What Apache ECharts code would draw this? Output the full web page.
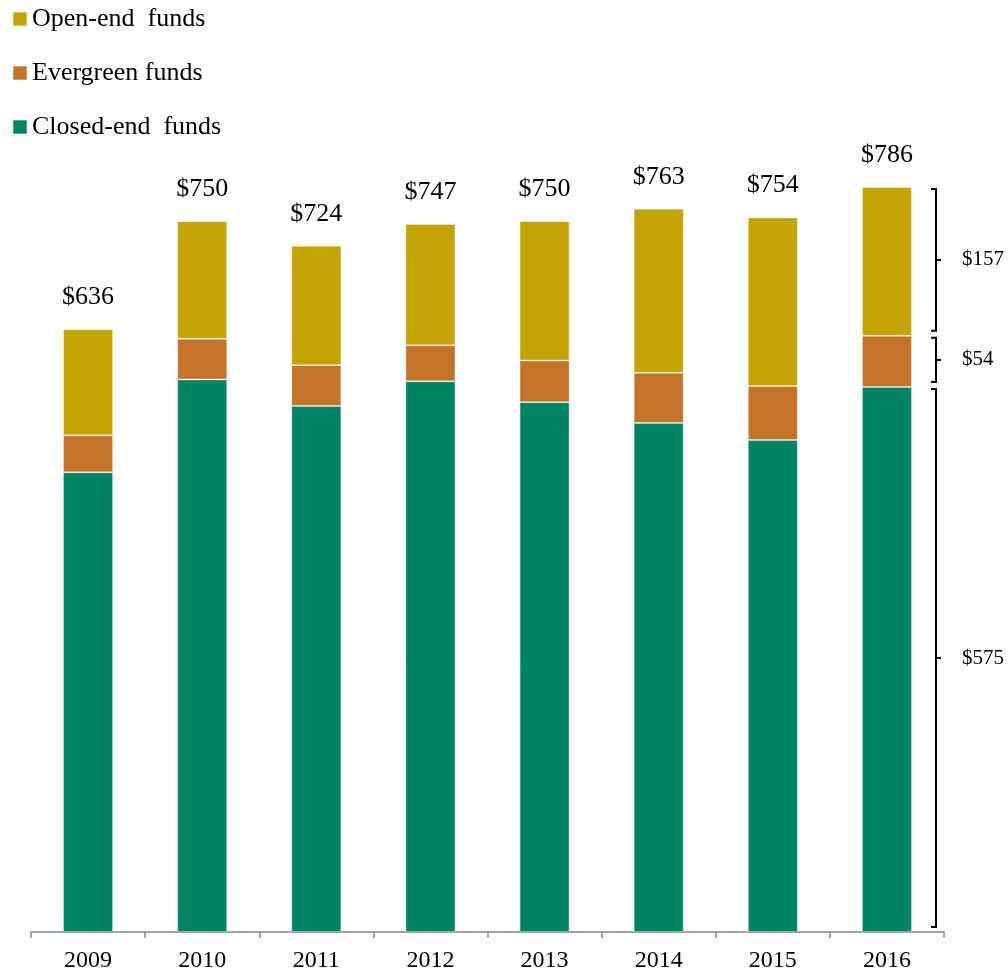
<!DOCTYPE html>
<html>
<head>
<meta charset="utf-8">
<script src="https://cdn.jsdelivr.net/npm/echarts@6/dist/echarts.min.js"></script>
<style>html,body{margin:0;padding:0;background:#fff;}#c{width:1008px;height:970px;}</style>
</head>
<body>
<div id="c"></div>
<script>
const years = ['2009','2010','2011','2012','2013','2014','2015','2016'];
const closedEnd = [485, 583, 555, 581, 559, 537, 519, 575];
const evergreen = [39, 43, 43, 38, 44, 53, 57, 54];
const openEnd = [112, 124, 126, 128, 147, 173, 178, 157];
const totals = [636, 750, 724, 747, 750, 763, 754, 786];
const seriesNames = ['Closed-end  funds', 'Evergreen funds', 'Open-end  funds'];
const colors = ['#008466', '#C47429', '#C3A402'];

const font = '"Liberation Serif", "Times New Roman", serif';
const last = years.length - 1;
const segs = [
  [closedEnd[last], 0, closedEnd[last]],
  [evergreen[last], closedEnd[last], closedEnd[last] + evergreen[last]],
  [openEnd[last], closedEnd[last] + evergreen[last], closedEnd[last] + evergreen[last] + openEnd[last]]
];
const bracketData = segs.map(s => [last, s[1], s[2], s[0]]);

const chart = echarts.init(document.getElementById('c'));
const barBase = {
  type: 'bar', stack: 'total', barWidth: 50,
  itemStyle: { borderColor: 'rgba(255,255,255,0.3)', borderWidth: 1 }
};
chart.setOption({
  animation: false,
  backgroundColor: '#fff',
  grid: { left: 31, right: 64, top: 79, bottom: 38, containLabel: false, outerBoundsMode: 'none' },
  legend: {
    orient: 'vertical', left: 7, top: 1, itemGap: 28,
    itemWidth: 14, itemHeight: 14, icon: 'rect',
    data: [seriesNames[2], seriesNames[1], seriesNames[0]],
    textStyle: { fontFamily: font, fontSize: 26, color: '#000', lineHeight: 26, padding: [0, 0, 0, 0] }
  },
  xAxis: {
    type: 'category', data: years,
    axisLine: { lineStyle: { color: '#888', width: 1.5 } },
    axisTick: { show: true, interval: 0, alignWithLabel: false, length: 6, lineStyle: { color: '#888', width: 1.5 } },
    axisLabel: { fontFamily: font, fontSize: 24, color: '#000', margin: 17 }
  },
  yAxis: { type: 'value', min: 0, max: 900, show: false, splitLine: { show: false } },
  series: [
    Object.assign({}, barBase, { name: seriesNames[0], data: closedEnd, itemStyle: Object.assign({}, barBase.itemStyle, { color: colors[0] }) }),
    Object.assign({}, barBase, { name: seriesNames[1], data: evergreen, itemStyle: Object.assign({}, barBase.itemStyle, { color: colors[1] }) }),
    Object.assign({}, barBase, {
      name: seriesNames[2], data: openEnd,
      itemStyle: Object.assign({}, barBase.itemStyle, { color: colors[2] }),
      label: {
        show: true, position: 'top', distance: 19,
        fontFamily: font, fontSize: 26, color: '#000',
        formatter: p => '$' + totals[p.dataIndex]
      }
    }),
    {
      type: 'custom', name: 'brackets', silent: true, z: 5,
      data: bracketData,
      renderItem: function (params, api) {
        const ci = api.value(0);
        const pLow = api.coord([ci, api.value(1)]);
        const pHigh = api.coord([ci, api.value(2)]);
        const band = api.size([1, 0])[0];
        const x = pLow[0] + band * 0.43;
        const y1 = pHigh[1] + 2;
        const y2 = pLow[1] - 5;
        const ym = (y1 + y2) / 2;
        const st = { stroke: '#000', lineWidth: 2, fill: null };
        return {
          type: 'group',
          children: [
            { type: 'polyline', shape: { points: [[x - 5, y1], [x, y1], [x, y2], [x - 5, y2]] }, style: st },
            { type: 'line', shape: { x1: x, y1: ym, x2: x + 5, y2: ym }, style: st },
            { type: 'text', style: { x: x + 26, y: ym, text: '$' + api.value(3), fontFamily: font, fontSize: 21, fill: '#000', verticalAlign: 'middle', align: 'left' } }
          ]
        };
      }
    }
  ]
});
</script>
</body>
</html>
